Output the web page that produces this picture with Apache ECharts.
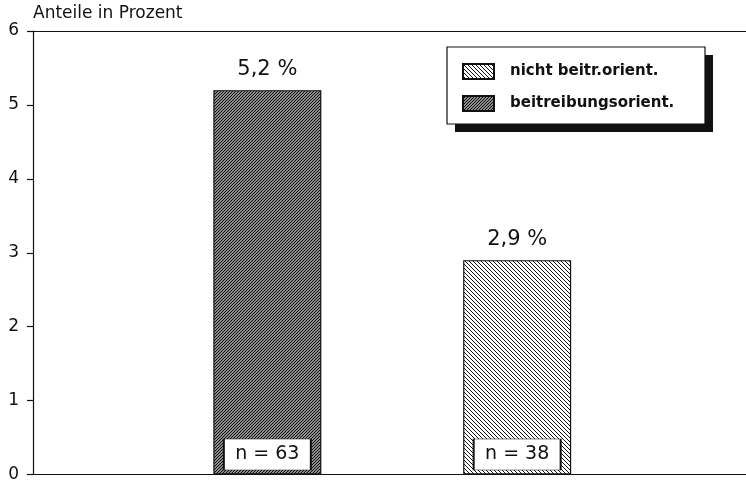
<!DOCTYPE html>
<html>
<head>
<meta charset="utf-8">
<script src="https://cdn.jsdelivr.net/npm/echarts@6/dist/echarts.min.js"></script>
<style>
  html, body { margin: 0; padding: 0; background: #fff; }
  #chart { width: 746px; height: 483px; }
</style>
</head>
<body>
<div id="chart"></div>
<script>
// data
var seriesNames = ['beitreibungsorient.', 'nicht beitr.orient.'];
var legendOrder = ['nicht beitr.orient.', 'beitreibungsorient.'];
var barPositions = [1, 2];
var barValues = [5.2, 2.9];
var nLabels = ['n = 63', 'n = 38'];
var yTicks = [0, 1, 2, 3, 4, 5, 6];

var FONT = 'DejaVu Sans';
var INK = '#111';

// hatch fill, dir 1 = "/" , dir -1 = "\"
function hatch(size, lw, dir) {
  var c = document.createElement('canvas');
  c.width = size; c.height = size;
  var g = c.getContext('2d');
  g.fillStyle = '#fff';
  g.fillRect(0, 0, size, size);
  g.strokeStyle = INK;
  g.lineWidth = lw;
  g.beginPath();
  for (var k = -1; k <= 1; k++) {
    if (dir > 0) {
      g.moveTo(k * size - 1, size + 1);
      g.lineTo(k * size + size + 1, -1);
    } else {
      g.moveTo(k * size - 1, -1);
      g.lineTo(k * size + size + 1, size + 1);
    }
  }
  g.stroke();
  return { image: c, repeat: 'repeat' };
}

var fills = [hatch(3, 1.4, 1), hatch(4, 1, -1)];

var chart = echarts.init(document.getElementById('chart'));

var series = seriesNames.map(function (name, i) {
  return {
    name: name,
    type: 'bar',
    barWidth: 108,
    barGap: '-100%',
    data: [[barPositions[i], barValues[i]]],
    itemStyle: { color: fills[i], borderColor: INK, borderWidth: 1.2 },
    label: {
      show: true,
      position: 'top',
      distance: 10,
      fontFamily: FONT,
      fontSize: 21,
      color: INK,
      formatter: function (p) {
        return p.value[1].toFixed(1).replace('.', ',') + ' %';
      }
    }
  };
});

// the "n = .." boxes at the foot of each bar
series.push({
  name: 'n',
  type: 'scatter',
  z: 5,
  symbol: 'rect',
  symbolSize: [87, 31],
  symbolOffset: [0, -20],
  data: barPositions.map(function (x) { return [x, 0]; }),
  itemStyle: { color: '#fff', borderColor: INK, borderWidth: 1.2, opacity: 1 },
  label: {
    show: true,
    position: 'inside',
    fontFamily: FONT,
    fontSize: 19,
    color: INK,
    formatter: function (p) { return nLabels[p.dataIndex]; }
  },
  silent: true
});

var xBase = {
  type: 'value',
  min: 0.062,
  max: 2.916,
  axisLine: { show: true, onZero: false, lineStyle: { color: INK, width: 1.2 } },
  axisTick: { show: false },
  axisLabel: { show: false },
  splitLine: { show: false }
};

chart.setOption({
  backgroundColor: '#fff',
  animation: false,
  title: {
    text: 'Anteile in Prozent',
    left: 33,
    top: 5,
    padding: 0,
    textStyle: { fontFamily: FONT, fontSize: 17, fontWeight: 'normal', color: INK }
  },
  // legend frame with its hard drop shadow
  graphic: [
    { type: 'rect', z: 1, silent: true,
      shape: { x: 455, y: 55, width: 258, height: 77 },
      style: { fill: INK } },
    { type: 'rect', z: 2, silent: true,
      shape: { x: 447, y: 47, width: 258, height: 77 },
      style: { fill: '#fff', stroke: INK, lineWidth: 1.2 } }
  ],
  legend: {
    data: legendOrder,
    orient: 'vertical',
    left: 447,
    top: 47,
    icon: 'rect',
    itemWidth: 31,
    itemHeight: 15,
    itemGap: 15,
    padding: [16, 32, 15, 15],
    textStyle: {
      fontFamily: FONT,
      fontSize: 15,
      fontWeight: 'bold',
      color: INK,
      padding: [0, 0, 0, 11]
    }
  },
  grid: { left: 33, right: 0, top: 31, bottom: 5 },
  xAxis: [
    xBase,
    Object.assign({}, xBase, { position: 'top' })
  ],
  yAxis: {
    type: 'value',
    min: yTicks[0],
    max: yTicks[yTicks.length - 1],
    interval: 1,
    axisLine: { show: true, onZero: false, lineStyle: { color: INK, width: 1.2 } },
    axisTick: { show: true, length: 6, lineStyle: { color: INK, width: 1.2 } },
    axisLabel: { fontFamily: FONT, fontSize: 17, color: INK, margin: 14 },
    splitLine: { show: false }
  },
  series: series
});
</script>
</body>
</html>
